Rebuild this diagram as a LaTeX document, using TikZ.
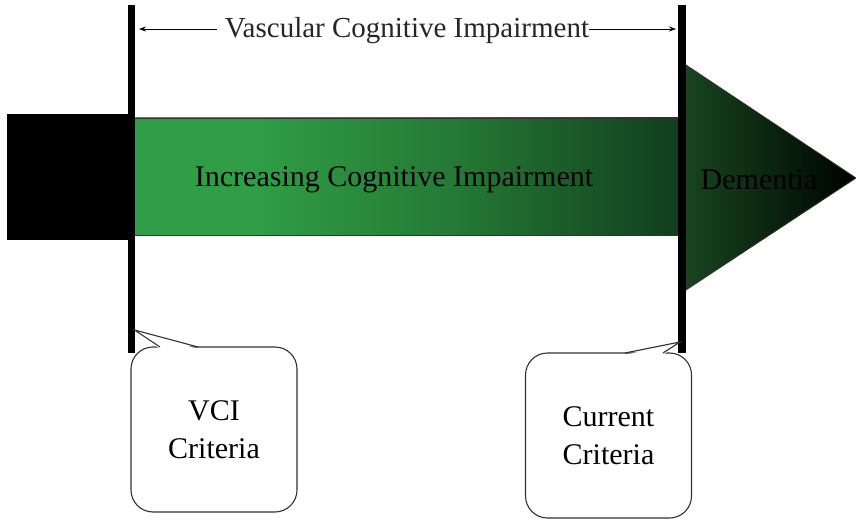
\documentclass[tikz,border=0pt]{standalone}
\usepackage{fontspec}
\setmainfont{Liberation Serif}
\usetikzlibrary{arrows.meta}
\definecolor{gA}{RGB}{47,158,70}
\definecolor{gB}{RGB}{36,120,52}
\definecolor{gC}{RGB}{17,62,30}
\definecolor{tA}{RGB}{24,68,30}
\definecolor{tB}{RGB}{5,20,7}
\definecolor{boxline}{RGB}{50,50,50}
\pgfdeclarehorizontalshading{barshade}{100bp}{color(0bp)=(gA); color(25bp)=(gA); color(36bp)=(gA); color(55bp)=(gB); color(75bp)=(gC); color(100bp)=(gC)}
\pgfdeclarehorizontalshading{trishade}{100bp}{color(0bp)=(tA); color(25bp)=(tA); color(62bp)=(tB); color(75bp)=(black); color(100bp)=(black)}
\tikzset{
  lbl/.style={font=\fontsize{30}{38}\selectfont, align=center, inner sep=0pt},
  toplbl/.style={font=\fontsize{29}{34}\selectfont, inner sep=0pt, text=black!85},
  callbox/.style={draw=boxline, line width=1.1pt, fill=white, rounded corners=22pt, minimum width=166pt, minimum height=165pt, align=center, font=\fontsize{30}{38}\selectfont, inner sep=0pt},
  spanarrow/.style={line width=0.8pt, -{Stealth[length=7pt,width=5pt]}},
  bar/.style={fill=black},
}
\begin{document}
\begin{tikzpicture}[x=1pt,y=-1pt]
\useasboundingbox (0,0) rectangle (856,521);
% black stub
\fill[black] (7,114) rectangle (128,240);
% green shaded bar
\shade[shading=barshade, draw=black!80, line width=0.8pt] (134,118) rectangle (678,235);
% arrow head (dementia)
\shade[shading=trishade, draw=black!80, line width=0.8pt] (686,65) -- (856,178) -- (686,290) -- cycle;
% vertical markers
\fill[bar] (127.5,5) rectangle (134.5,353);
\fill[bar] (678,5) rectangle (686,353);
% texts on bar
\node[lbl] (inc) at (394,180) {Increasing Cognitive Impairment};
\node[lbl] (dem) at (759,180) {Dementia};
% top span label
\node[toplbl] (vci) at (407,31) {Vascular Cognitive Impairment};
\coordinate (la) at (139,29);
\coordinate (ra) at (676,29);
\draw[spanarrow] ([xshift=-8pt]vci.west |- la) -- (la);
\draw[spanarrow] (vci.east |- ra) -- (ra);
% callouts
\node[callbox] (boxA) at (214,429.5) {VCI\\Criteria};
\coordinate (tipA) at (134.5,330);
\fill[white] (160,349) -- (tipA) -- (198,349) -- cycle;
\draw[boxline, line width=1.1pt, line join=miter] (160,347) -- (tipA) -- (198,347);
\node[callbox] (boxB) at (608.5,435.5) {Current\\Criteria};
\coordinate (tipB) at (680,342);
\fill[white] (625,355) -- (tipB) -- (663,355) -- cycle;
\draw[boxline, line width=1.1pt] (625,353) -- (tipB) -- (663,353);
\end{tikzpicture}
\end{document}
